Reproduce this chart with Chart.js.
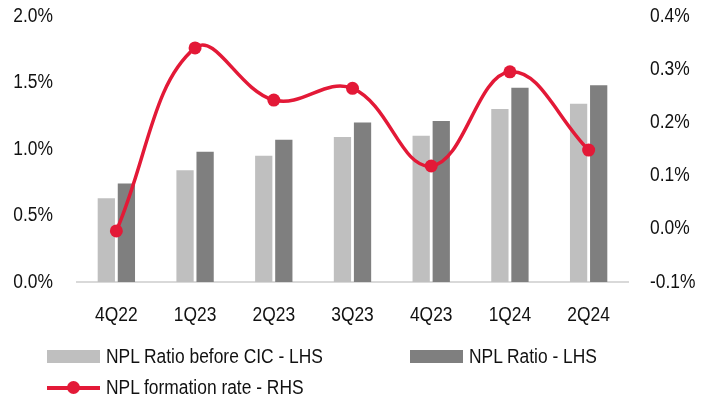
<!DOCTYPE html>
<html>
<head>
<meta charset="utf-8">
<script src="https://cdn.jsdelivr.net/npm/chart.js@4.4.1/dist/chart.umd.min.js"></script>
<style>
  html, body { margin: 0; padding: 0; background: #fff; }
  #wrap { position: relative; width: 715px; height: 401px; }
  .font { font-family: 'Liberation Sans', Arial, sans-serif; color: #111; }
  .legend-item { position: absolute; height: 20px; font-size: 20px; line-height: 20px; white-space: nowrap; }
  .legend-item span { position: absolute; top: 0; display: inline-block; transform: scaleX(0.87); transform-origin: left center; }
  .swatch { position: absolute; left: 0; top: 4px; width: 53px; height: 13px; }
  .line-swatch { position: absolute; left: 0; top: 0; width: 53px; height: 20px; }
  .line-swatch::before { content: ''; position: absolute; left: 0; right: 0; top: 9px; height: 3.5px; background: #E31937; }
  .line-swatch::after { content: ''; position: absolute; left: 20px; top: 4px; width: 13px; height: 13px; border-radius: 50%; background: #E31937; }
</style>
</head>
<body>
<div id="wrap">
  <canvas id="chart" width="715" height="401"></canvas>
  <div id="legend" class="font"></div>
</div>
<script>
const categories = ['4Q22', '1Q23', '2Q23', '3Q23', '4Q23', '1Q24', '2Q24'];
const nplBeforeCic = [0.63, 0.84, 0.95, 1.09, 1.10, 1.30, 1.34];
const nplRatio = [0.74, 0.98, 1.07, 1.20, 1.21, 1.46, 1.48];
const nplFormation = [-0.004, 0.340, 0.242, 0.264, 0.118, 0.295, 0.148];
const leftTicks = [0, 0.5, 1.0, 1.5, 2.0];
const rightTicks = [-0.1, 0, 0.1, 0.2, 0.3, 0.4];

const RED = '#E31937';
const fontFamily = "'Liberation Sans', Arial, sans-serif";
const tickFont = { family: fontFamily, size: 20 };
const TEXT_SQUEEZE = 0.87; // the original uses a narrow face

const ctx = document.getElementById('chart').getContext('2d');
// draw canvas text horizontally condensed around its anchor point
const origFillText = ctx.fillText;
ctx.fillText = function (text, x, y) {
  this.save();
  this.translate(x, y);
  this.scale(TEXT_SQUEEZE, 1);
  origFillText.call(this, text, 0, 0);
  this.restore();
};

// value axes: fixed width, and no extra top/bottom padding for the labels
const fitValueAxis = w => s => {
  s.width = w;
  s.paddingTop = 0;
  s.paddingBottom = 0;
};

const chart = new Chart(ctx, {
  data: {
    labels: categories,
    datasets: [
      {
        type: 'line',
        label: 'NPL formation rate - RHS',
        data: nplFormation,
        yAxisID: 'y1',
        borderColor: RED,
        backgroundColor: RED,
        borderWidth: 3.5,
        pointRadius: 6.5,
        pointBackgroundColor: RED,
        pointBorderWidth: 0,
        tension: 0.4,
        order: 0
      },
      {
        type: 'bar',
        label: 'NPL Ratio before CIC - LHS',
        data: nplBeforeCic,
        yAxisID: 'y',
        backgroundColor: '#BFBFBF',
        categoryPercentage: 0.51,
        barPercentage: 0.86,
        order: 1
      },
      {
        type: 'bar',
        label: 'NPL Ratio - LHS',
        data: nplRatio,
        yAxisID: 'y',
        backgroundColor: '#7F7F7F',
        categoryPercentage: 0.51,
        barPercentage: 0.86,
        order: 1
      }
    ]
  },
  options: {
    responsive: false,
    animation: false,
    layout: { padding: { top: 16, bottom: 59, left: 0, right: 0 } },
    plugins: { legend: { display: false }, tooltip: { enabled: false } },
    scales: {
      x: {
        grid: { display: false, drawTicks: false },
        border: { display: true, color: '#D9D9D9', width: 2 },
        ticks: { color: '#111', font: tickFont, padding: 21 },
        afterFit: s => { s.height = 60; }
      },
      y: {
        position: 'left',
        min: 0, max: 2,
        afterBuildTicks: s => { s.ticks = leftTicks.map(v => ({ value: v })); },
        grid: { display: false, drawTicks: false },
        border: { display: false },
        ticks: { color: '#111', font: tickFont, padding: 24, callback: v => v.toFixed(1) + '%' },
        afterFit: fitValueAxis(77)
      },
      y1: {
        position: 'right',
        min: -0.1, max: 0.4,
        afterBuildTicks: s => { s.ticks = rightTicks.map(v => ({ value: v })); },
        grid: { display: false, drawTicks: false },
        border: { display: false },
        ticks: { color: '#111', font: tickFont, padding: 22, callback: v => v.toFixed(1) + '%' },
        afterFit: fitValueAxis(87)
      }
    }
  }
});

// legend laid out like the original (two columns, left aligned)
const legendSpots = [
  { idx: 1, left: 47, top: 346, kind: 'box' },
  { idx: 2, left: 410, top: 346, kind: 'box' },
  { idx: 0, left: 47, top: 377, kind: 'line' }
];
const legend = document.getElementById('legend');
legendSpots.forEach(spot => {
  const ds = chart.data.datasets[spot.idx];
  const item = document.createElement('div');
  item.className = 'legend-item';
  item.style.left = spot.left + 'px';
  item.style.top = spot.top + 'px';
  const sw = document.createElement('div');
  if (spot.kind === 'box') {
    sw.className = 'swatch';
    sw.style.background = ds.backgroundColor;
  } else {
    sw.className = 'line-swatch';
  }
  const txt = document.createElement('span');
  txt.style.left = '59px';
  txt.textContent = ds.label;
  item.appendChild(sw);
  item.appendChild(txt);
  legend.appendChild(item);
});
</script>
</body>
</html>
